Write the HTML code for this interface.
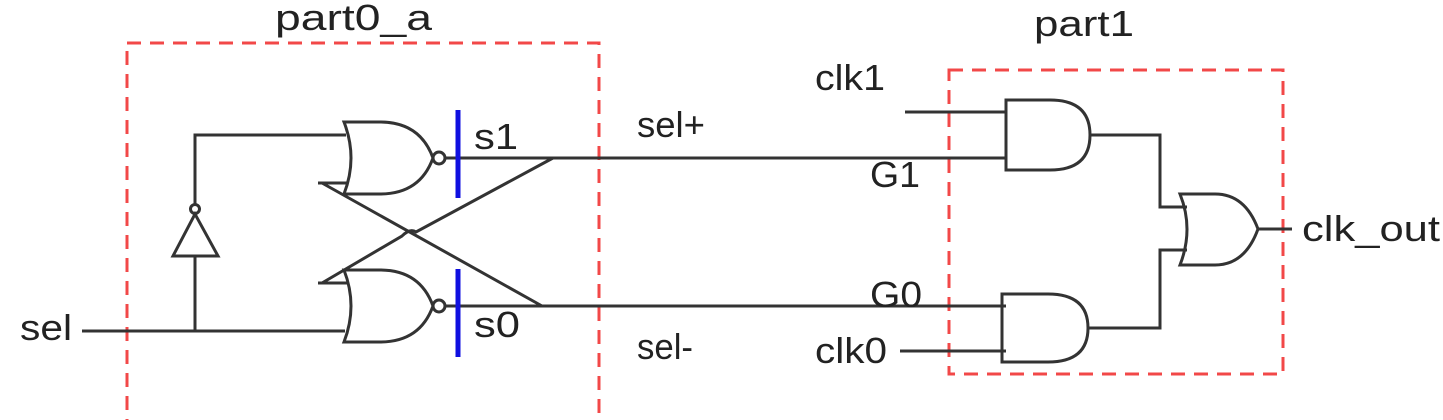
<!DOCTYPE html>
<html><head><meta charset="utf-8"><style>
html,body{margin:0;padding:0;background:#fff;}
svg{display:block;}
text{font-family:"Liberation Sans",sans-serif;font-size:36px;fill:#222;}
</style></head><body>
<svg width="1443" height="420" viewBox="0 0 1443 420">
<g fill="none" stroke="#f24848" stroke-width="3" stroke-dasharray="14,9">
<rect x="127" y="43" width="472" height="390"/>
<rect x="949" y="70" width="334" height="304"/>
</g>
<text x="275" y="30" textLength="157" lengthAdjust="spacingAndGlyphs">part0_a</text>
<text x="1034" y="36" textLength="100" lengthAdjust="spacingAndGlyphs">part1</text>
<g fill="none" stroke="#333" stroke-width="3">
<path d="M82 331 H345"/>
<path d="M195 331 V256"/>
<path d="M173 256 H218 L195 214 Z"/>
<circle cx="195" cy="209" r="4.5"/>
<path d="M195 204 V135 H346"/>
<path d="M344 122 H380 Q420 122 433 158 Q420 194 380 194 H344 Q358 158 344 122 Z"/>
<circle cx="439" cy="158" r="6"/>
<path d="M445 158 H1006"/>
<path d="M344 270 H380 Q420 270 433 306 Q420 342 380 342 H344 Q358 306 344 270 Z"/>
<circle cx="439" cy="306" r="6"/>
<path d="M445 306 H1006"/>
<path d="M318 183 H348 M322 183 L542 306"/>
<path d="M318 283 H348 M322 283 L402 236 Q410 228 416 232 L553 158"/>
<path d="M905 112 H1006 M900 351 H1006"/>
<path d="M1006 100 H1050 Q1090 100 1090 135 Q1090 170 1050 170 H1006 Z"/>
<path d="M1002 294 H1048 Q1088 294 1088 328 Q1088 362 1048 362 H1002 Z"/>
<path d="M1090 135 H1160 V207 H1187 M1088 328 H1160 V250 H1187"/>
<path d="M1180 194 H1215 Q1245 194 1258 229 Q1245 265 1215 265 H1180 Q1194 229 1180 194 Z"/>
<path d="M1258 229 H1292"/>
</g>
<g stroke="#1010e0" stroke-width="5">
<path d="M458 110 V198"/>
<path d="M458 269 V357"/>
</g>
<text x="20" y="340" textLength="52" lengthAdjust="spacingAndGlyphs">sel</text>
<text x="474" y="149" textLength="44" lengthAdjust="spacingAndGlyphs">s1</text>
<text x="474" y="337" textLength="46" lengthAdjust="spacingAndGlyphs">s0</text>
<text x="637" y="137" textLength="68" lengthAdjust="spacingAndGlyphs">sel+</text>
<text x="637" y="359" textLength="56" lengthAdjust="spacingAndGlyphs">sel-</text>
<text x="870" y="187" textLength="50" lengthAdjust="spacingAndGlyphs">G1</text>
<text x="870" y="307" textLength="52" lengthAdjust="spacingAndGlyphs">G0</text>
<text x="815" y="90" textLength="70" lengthAdjust="spacingAndGlyphs">clk1</text>
<text x="815" y="363" textLength="72" lengthAdjust="spacingAndGlyphs">clk0</text>
<text x="1302" y="241" textLength="138" lengthAdjust="spacingAndGlyphs">clk_out</text>
</svg>
</body></html>
